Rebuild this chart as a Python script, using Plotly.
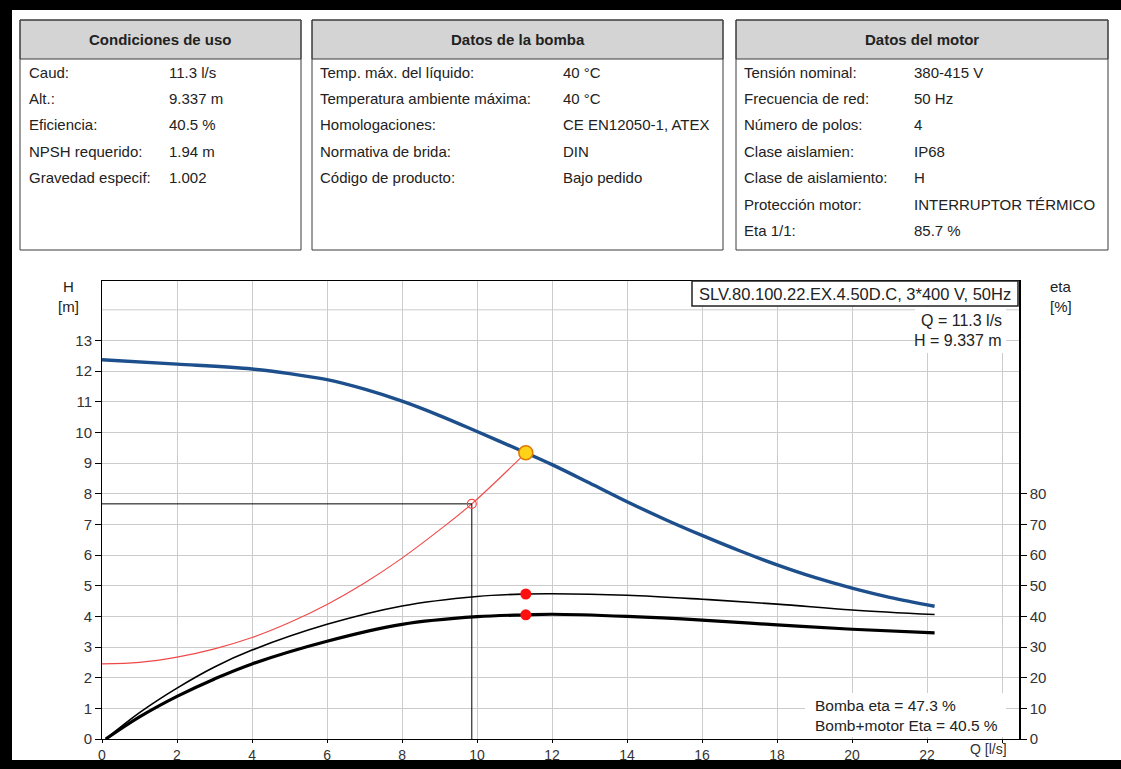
import plotly.graph_objects as go

# ---------------- data ----------------
q_pump = [0, 2, 4, 5, 6, 7, 8, 9, 10, 11.3, 12, 13, 14, 15, 16, 17, 18, 19, 20, 21, 22.2]
h_pump = [12.37, 12.23, 12.07, 11.92, 11.72, 11.41, 11.02, 10.55, 10.03, 9.337, 8.95, 8.35, 7.74, 7.17,
          6.64, 6.14, 5.68, 5.27, 4.92, 4.62, 4.33]

q_eta = [0.1, 1, 2, 3, 4, 6, 8, 10, 11.3, 12, 14, 16, 18, 20, 22.2]
eta_pump = [0, 8.6, 16.6, 23.5, 29.0, 37.4, 43.4, 46.5, 47.3, 47.4, 46.9, 45.6, 44.0, 42.1, 40.6]
eta_total = [0, 7.2, 13.9, 19.6, 24.5, 31.9, 37.4, 39.9, 40.5, 40.7, 40.0, 38.8, 37.2, 35.8, 34.6]

q_sys = [0, 1, 2, 3, 4, 5, 6, 7, 8, 9, 9.86, 11.3]
h_sys = [2.45, 2.50, 2.67, 2.94, 3.31, 3.80, 4.39, 5.09, 5.90, 6.82, 7.67, 9.337]

q_op, h_op = 11.3, 9.337
eta_pump_op, eta_total_op = 47.3, 40.5
q_ref, h_ref = 9.86, 7.67

x_ticks = [0, 2, 4, 6, 8, 10, 12, 14, 16, 18, 20, 22, 24]
x_ticktext = ["0", "2", "4", "6", "8", "10", "12", "14", "16", "18", "20", "22", ""]
h_ticks = list(range(0, 14))
eta_ticks = [0, 10, 20, 30, 40, 50, 60, 70, 80]

model_text = "SLV.80.100.22.EX.4.50D.C, 3*400 V, 50Hz"

t1_title = "Condiciones de uso"
t1_labels = ["Caud:", "Alt.:", "Eficiencia:", "NPSH requerido:", "Gravedad especif:"]
t1_values = ["11.3 l/s", "9.337 m", "40.5 %", "1.94 m", "1.002"]

t2_title = "Datos de la bomba"
t2_labels = ["Temp. máx. del líquido:", "Temperatura ambiente máxima:", "Homologaciones:",
             "Normativa de brida:", "Código de producto:"]
t2_values = ["40 °C", "40 °C", "CE EN12050-1, ATEX", "DIN", "Bajo pedido"]

t3_title = "Datos del motor"
t3_labels = ["Tensión nominal:", "Frecuencia de red:", "Número de polos:", "Clase aislamien:",
             "Clase de aislamiento:", "Protección motor:", "Eta 1/1:"]
t3_values = ["380-415 V", "50 Hz", "4", "IP68", "H", "INTERRUPTOR TÉRMICO", "85.7 %"]

# ---------------- layout helpers ----------------
W, HH = 1121, 769
L, R, T, B = 102, 1019, 281, 739
FONT = "Liberation Sans, Arial, sans-serif"
TXT = "#222222"


def px(x):
    return (x - L) / (R - L)


def py(y):
    return (B - y) / (B - T)


fig = go.Figure()

# system curve (red)
fig.add_trace(go.Scatter(x=q_sys, y=h_sys, mode="lines", line=dict(color="#f04848", width=1.1, shape="spline"),
                         hoverinfo="skip"))
# reference lines
fig.add_trace(go.Scatter(x=[0, q_ref, q_ref], y=[h_ref, h_ref, 0], mode="lines",
                         line=dict(color="black", width=1), hoverinfo="skip"))
fig.add_trace(go.Scatter(x=[q_ref], y=[h_ref], mode="markers",
                         marker=dict(symbol="circle-open", size=9, color="#f04848", line=dict(width=1.2)),
                         hoverinfo="skip"))
# efficiency curves
fig.add_trace(go.Scatter(x=q_eta, y=eta_pump, yaxis="y2", mode="lines",
                         line=dict(color="black", width=1.6, shape="spline"), hoverinfo="skip"))
fig.add_trace(go.Scatter(x=q_eta, y=eta_total, yaxis="y2", mode="lines",
                         line=dict(color="black", width=3.2, shape="spline"), hoverinfo="skip"))
# pump curve
fig.add_trace(go.Scatter(x=q_pump, y=h_pump, mode="lines",
                         line=dict(color="#1d4f8c", width=3.4, shape="spline"), hoverinfo="skip"))
# operating point
fig.add_trace(go.Scatter(x=[q_op], y=[h_op], mode="markers",
                         marker=dict(size=14, color="#ffd21a", line=dict(color="#e07800", width=1.5)),
                         hoverinfo="skip"))
fig.add_trace(go.Scatter(x=[q_op, q_op], y=[eta_pump_op, eta_total_op], yaxis="y2", mode="markers",
                         marker=dict(size=11, color="#ff1010"), hoverinfo="skip"))

shapes = []
annotations = []

# outer black frame (top, left, bottom)
for (x0, y0, x1, y1) in [(0, 0, W, 10), (0, 0, 12, HH), (0, 760, W, HH)]:
    shapes.append(dict(type="rect", xref="paper", yref="paper", x0=px(x0), x1=px(x1), y0=py(y0), y1=py(y1),
                       fillcolor="black", line=dict(width=0), layer="below"))

# gridline at H = 14 (no tick label)
shapes.append(dict(type="line", xref="paper", yref="y", x0=0, x1=1, y0=14, y1=14,
                   line=dict(color="#cccccc", width=1), layer="below"))

# tables
boxes = [(20, 301, t1_title, t1_labels, t1_values, 27, 167),
         (312, 723, t2_title, t2_labels, t2_values, 318, 561),
         (736, 1108, t3_title, t3_labels, t3_values, 742, 912)]
top, head_b, bottom = 20, 59, 250
for (bx0, bx1, title, labels, values, lx, vx) in boxes:
    shapes.append(dict(type="rect", xref="paper", yref="paper", x0=px(bx0), x1=px(bx1), y0=py(head_b), y1=py(top),
                       fillcolor="#d4d4d4", line=dict(color="#3a3a3a", width=1), layer="above"))
    shapes.append(dict(type="rect", xref="paper", yref="paper", x0=px(bx0), x1=px(bx1), y0=py(bottom), y1=py(top),
                       fillcolor="rgba(0,0,0,0)", line=dict(color="#3a3a3a", width=1), layer="above"))
    annotations.append(dict(xref="paper", yref="paper", x=px((bx0 + bx1) / 2), y=py((top + head_b) / 2),
                            text="<b>" + title + "</b>", showarrow=False, xanchor="center", yanchor="middle",
                            font=dict(family=FONT, size=15, color=TXT)))
    for i, (lab, val) in enumerate(zip(labels, values)):
        yy = 72 + 26.4 * i
        annotations.append(dict(xref="paper", yref="paper", x=px(lx), y=py(yy), text=lab, showarrow=False,
                                xanchor="left", yanchor="middle", font=dict(family=FONT, size=15, color=TXT)))
        annotations.append(dict(xref="paper", yref="paper", x=px(vx), y=py(yy), text=val, showarrow=False,
                                xanchor="left", yanchor="middle", font=dict(family=FONT, size=15, color=TXT)))

# model box
shapes.append(dict(type="rect", xref="paper", yref="paper", x0=px(692), x1=px(1018), y0=py(306), y1=py(281),
                   fillcolor="white", line=dict(color="#222", width=1.5), layer="above"))
annotations.append(dict(xref="paper", yref="paper", x=px(855), y=py(293.5), text=model_text, showarrow=False,
                        xanchor="center", yanchor="middle", font=dict(family=FONT, size=16.5, color=TXT)))
# white boxes behind text
shapes.append(dict(type="rect", xref="paper", yref="paper", x0=px(915), x1=px(1006), y0=py(353), y1=py(307),
                   fillcolor="white", line=dict(width=0), layer="above"))
shapes.append(dict(type="rect", xref="paper", yref="paper", x0=px(805), x1=px(1006), y0=py(737), y1=py(693),
                   fillcolor="white", line=dict(width=0), layer="above"))

annotations.append(dict(xref="paper", yref="paper", x=px(1004), y=py(320), text=f"Q = {q_op} l/s",
                        showarrow=False, xanchor="right", yanchor="middle",
                        font=dict(family=FONT, size=16, color=TXT)))
annotations.append(dict(xref="paper", yref="paper", x=px(1004), y=py(340), text=f"H = {h_op} m",
                        showarrow=False, xanchor="right", yanchor="middle",
                        font=dict(family=FONT, size=16, color=TXT)))
annotations.append(dict(xref="paper", yref="paper", x=px(813), y=py(705), text=f"Bomba eta = {eta_pump_op} %",
                        showarrow=False, xanchor="left", yanchor="middle",
                        font=dict(family=FONT, size=15.5, color=TXT)))
annotations.append(dict(xref="paper", yref="paper", x=px(813), y=py(725),
                        text=f"Bomb+motor Eta = {eta_total_op} %",
                        showarrow=False, xanchor="left", yanchor="middle",
                        font=dict(family=FONT, size=15.5, color=TXT)))

# axis titles
annotations.append(dict(xref="paper", yref="paper", x=px(68), y=py(296), text="H<br>[m]", showarrow=False,
                        xanchor="center", yanchor="middle", font=dict(family=FONT, size=15, color=TXT)))
annotations.append(dict(xref="paper", yref="paper", x=px(1048), y=py(296), text="eta<br>[%]", showarrow=False,
                        xanchor="left", yanchor="middle", align="left",
                        font=dict(family=FONT, size=15, color=TXT)))
annotations.append(dict(xref="paper", yref="paper", x=px(988), y=py(749), text="Q [l/s]", showarrow=False,
                        xanchor="center", yanchor="middle", font=dict(family=FONT, size=14, color="#333")))

fig.update_layout(
    width=W, height=HH,
    margin=dict(l=L, r=W - R, t=T, b=HH - B, pad=0, autoexpand=False),
    paper_bgcolor="white", plot_bgcolor="white",
    showlegend=False,
    font=dict(family=FONT, size=15, color="#333"),
    xaxis=dict(range=[0, 24.45], tickmode="array", tickvals=x_ticks, ticktext=x_ticktext,
               showgrid=True, gridcolor="#cccccc", gridwidth=1, zeroline=False, automargin=False,
               showline=True, linecolor="black", linewidth=1, mirror=True,
               ticks="outside", ticklen=3, tickcolor="black", ticklabelstandoff=0,
               tickfont=dict(family=FONT, size=14, color="#333")),
    yaxis=dict(range=[0, 14.94], tickmode="array", tickvals=h_ticks, automargin=False,
               showgrid=True, gridcolor="#cccccc", gridwidth=1, zeroline=False,
               showline=True, linecolor="black", linewidth=1,
               ticks="outside", ticklen=6, tickcolor="black",
               tickfont=dict(family=FONT, size=15, color="#333")),
    yaxis2=dict(range=[0, 149.4], overlaying="y", side="right", tickmode="array", tickvals=eta_ticks,
                automargin=False,
                showgrid=False, zeroline=False, showline=True, linecolor="black", linewidth=1.5,
                ticks="outside", ticklen=6, tickcolor="black",
                tickfont=dict(family=FONT, size=15, color="#333")),
    shapes=shapes,
    annotations=annotations,
)

fig.write_html("out.html")
